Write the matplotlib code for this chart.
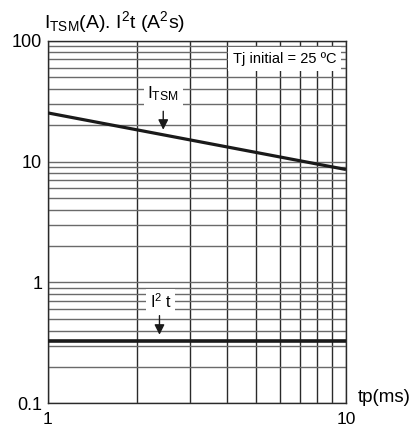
import matplotlib
matplotlib.use("Agg")
import matplotlib.pyplot as plt
import numpy as np
from matplotlib.ticker import LogLocator, NullFormatter

plt.rcParams['font.family'] = ['Liberation Sans', 'DejaVu Sans']
plt.rcParams['mathtext.fontset'] = 'custom'
plt.rcParams['mathtext.rm'] = 'Liberation Sans'
plt.rcParams['mathtext.it'] = 'Liberation Sans'

# data
tp_ms = [1, 10]
itsm_A = [25.3, 8.6]
i2t_A2s = [0.33, 0.33]
x_ticks = [1, 10]
x_tick_labels = ['1', '10']
y_ticks = [0.1, 1, 10, 100]
y_tick_labels = ['0.1', '1', '10', '100']

fig = plt.figure(figsize=(4.14, 4.29), dpi=100)
ax = fig.add_axes([0.1152, 0.0600, 0.7205, 0.8450])
ax.set_xscale('log')
ax.set_yscale('log')
ax.set_xlim(1, 10)
ax.set_ylim(0.1, 100)

# grid
ax.xaxis.set_minor_locator(LogLocator(base=10, subs=np.arange(2, 10)))
ax.yaxis.set_minor_locator(LogLocator(base=10, subs=np.arange(2, 10)))
ax.xaxis.set_minor_formatter(NullFormatter())
ax.yaxis.set_minor_formatter(NullFormatter())
ax.grid(True, which='both', axis='x', color='#2a2a2a', lw=1.0)
ax.grid(True, which='both', axis='y', color='#6a6a6a', lw=1.0)
ax.set_axisbelow(True)

ax.set_xticks(x_ticks)
ax.set_xticklabels(x_tick_labels, fontsize=12.5)
ax.set_yticks(y_ticks)
ax.set_yticklabels(y_tick_labels, fontsize=13)
ax.tick_params(which='both', length=0)
ax.tick_params(axis='x', pad=6)
ax.tick_params(axis='y', pad=4)
for s in ax.spines.values():
    s.set_color('#2a2a2a')
    s.set_linewidth(1.0)

ax.plot(tp_ms, itsm_A, color='#1a1a1a', lw=2.3, solid_capstyle='butt', zorder=3)
ax.plot(tp_ms, i2t_A2s, color='#1a1a1a', lw=2.6, solid_capstyle='butt', zorder=3)

# labels with arrows
ax.text(2.44, 36.5, r'I$_{\mathrm{TSM}}$', fontsize=12.5, ha='center', va='center',
        bbox=dict(facecolor='white', edgecolor='none', pad=2.5), zorder=4)
ax.annotate('', xy=(2.44, 17.4), xytext=(2.44, 27.5),
            arrowprops=dict(arrowstyle='-|>', color='#1a1a1a', lw=1.0,
                            mutation_scale=15), zorder=4)
ax.text(2.39, 0.69, r'I$^{2}$ t', fontsize=11.5, ha='center', va='center',
        bbox=dict(facecolor='white', edgecolor='none', pad=2.5), zorder=4)
ax.annotate('', xy=(2.37, 0.35), xytext=(2.37, 0.56),
            arrowprops=dict(arrowstyle='-|>', color='#1a1a1a', lw=1.0,
                            mutation_scale=15), zorder=4)

ax.text(0.795, 0.95, 'Tj initial = 25 ºC', transform=ax.transAxes, fontsize=10.5,
        ha='center', va='center',
        bbox=dict(facecolor='white', edgecolor='none', pad=3.5), zorder=4)

fig.text(0.107, 0.949, r'I$_{\mathrm{TSM}}$(A). I$^{2}$t (A$^{2}$s)', fontsize=14,
         ha='left', va='center')
fig.text(0.863, 0.073, 'tp(ms)', fontsize=13.5, ha='left', va='center')

fig.savefig('out.png', dpi=100)
